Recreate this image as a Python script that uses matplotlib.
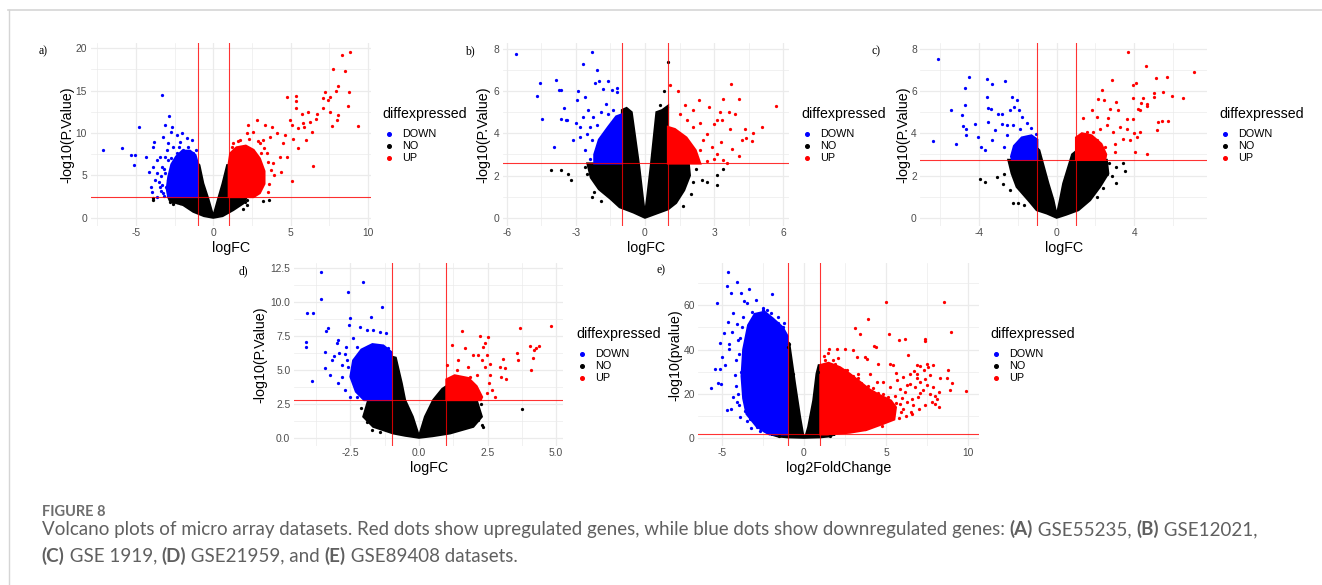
import matplotlib
matplotlib.use('Agg')
import matplotlib.pyplot as plt
from matplotlib.lines import Line2D

plt.rcParams['font.family'] = ['Liberation Sans', 'DejaVu Sans']

# ---------------- data ----------------
# polygons = dense clouds, lists = single visible dots, all in (logFC, -log10 p)

# a) GSE55235
a_cut = (1.0, 2.44)
a_no_cloud = [(0, 0), (-0.6, 0.2), (-1.29, 0.71), (-1.94, 1.5), (-2.5, 1.8), (-2.8, 2.0), (-2.9, 2.44),
              (-1.0, 2.44), (-1.0, 6.4), (-0.9, 6.2), (-0.65, 4.05), (-0.32, 2.2), (0, 0.15),
              (0.3, 2.1), (0.6, 4.0), (0.9, 6.2), (1.0, 6.2), (1.0, 2.44), (2.15, 2.44),
              (1.94, 1.7), (1.29, 0.91), (0.6, 0.2)]
a_down_core = [(-1.0, 2.44), (-1.0, 6.4), (-1.15, 7.4), (-1.5, 7.9), (-2.0, 7.9), (-2.4, 7.2),
               (-2.7, 6.3), (-2.9, 4.8), (-3.0, 3.4), (-2.9, 2.44)]
a_up_core = [(1.0, 2.44), (1.0, 6.4), (1.1, 7.6), (1.5, 8.3), (2.1, 8.5), (2.6, 8.0), (3.0, 7.0),
             (3.3, 5.5), (3.3, 4.0), (3.0, 2.9), (2.6, 2.44)]
a_no = [(-3.87, 2.09), (-3.87, 2.35), (-2.8, 1.8), (-2.58, 1.85), (-2.37, 1.8), (-2.15, 1.7),
        (-2.6, 1.6), (2.04, 1.9), (3.2, 1.97), (3.6, 2.05), (1.94, 0.98), (2.15, 1.5), (2.2, 2.1)]
a_down = [(-7.1, 8.0), (-5.87, 8.27), (-5.31, 7.36), (-5.05, 7.36), (-5.14, 6.22), (-4.82, 10.75),
          (-4.37, 7.2), (-4.17, 5.35), (-4.04, 3.66), (-3.98, 3.07), (-3.91, 6.02), (-3.87, 8.39),
          (-3.8, 8.98), (-3.33, 14.5), (-3.66, 5.24), (-3.53, 4.25), (-3.44, 7.2), (-3.23, 9.57),
          (-3.12, 10.94), (-2.84, 12.0), (-2.69, 10.75), (-2.75, 10.16), (-2.9, 8.78), (-2.37, 9.76),
          (-2.15, 8.98), (-2.04, 9.96), (-1.72, 9.37), (-1.4, 9.17), (-3.66, 2.48), (-3.23, 2.87),
          (-3.01, 7.99), (-2.58, 8.39), (-2.37, 7.6), (-1.94, 7.99), (-1.61, 8.39), (-1.29, 7.6),
          (-3.66, 6.81), (-3.33, 6.02), (-3.12, 5.24), (-2.9, 4.45), (-3.05, 3.66), (-3.44, 3.66),
          (-3.76, 4.45), (-3.2, 2.6), (-3.4, 3.2), (-2.7, 7.0), (-3.1, 7.2), (-2.9, 6.8),
          (-3.2, 5.8), (-3.4, 4.9), (-3.3, 3.9), (-2.2, 8.3), (-1.1, 8.0)]
a_up = [(8.82, 19.6), (8.28, 19.2), (7.74, 17.6), (8.49, 17.3), (8.06, 15.5), (8.77, 14.9),
        (7.91, 15.0), (7.2, 14.8), (7.53, 14.3), (7.1, 14.1), (7.42, 13.9), (7.05, 12.9),
        (7.53, 12.5), (8.71, 13.2), (8.02, 12.1), (7.96, 11.5), (7.63, 10.8), (9.35, 10.8),
        (6.45, 6.1), (5.05, 4.33), (4.73, 14.2), (5.31, 14.4), (5.33, 13.8), (5.33, 13.0),
        (5.7, 12.3), (6.13, 12.5), (6.67, 12.3), (6.62, 11.7), (6.24, 11.3), (5.76, 11.2),
        (4.95, 11.5), (5.05, 10.9), (5.48, 10.55), (5.85, 10.75), (6.34, 10.16), (5.98, 9.17),
        (5.44, 8.19), (5.16, 9.25), (4.62, 9.76), (4.47, 8.78), (4.09, 9.96), (3.76, 10.75),
        (3.33, 10.94), (2.8, 11.5), (2.26, 10.94), (2.15, 9.96), (2.58, 10.16), (3.66, 9.57),
        (4.3, 7.2), (4.73, 7.2), (4.34, 5.43), (3.87, 6.42), (3.44, 7.6), (3.01, 8.78),
        (1.29, 8.78), (1.72, 9.17), (3.6, 4.0), (3.5, 3.0), (3.9, 5.0), (3.2, 9.2),
        (3.3, 8.2), (3.1, 7.6), (3.5, 6.6), (3.7, 5.6), (2.9, 9.0), (2.3, 9.3), (1.6, 9.0),
        (1.2, 8.3)]

# b) GSE12021
b_cut = (1.0, 2.57)
b_no_cloud = [(0, 0), (-0.5, 0.25), (-1.1, 0.5), (-1.5, 0.9), (-2.0, 1.35), (-2.35, 1.9), (-2.5, 2.57),
              (-1.0, 2.57), (-1.0, 5.1), (-0.8, 5.2), (-0.58, 5.0), (-0.25, 2.4), (-0.08, 0.8), (0, 0.15),
              (0.08, 0.8), (0.25, 2.4), (0.5, 5.0), (0.75, 5.1), (1.0, 5.3), (1.0, 2.57), (1.9, 2.57),
              (1.95, 2.0), (1.7, 1.3), (1.35, 0.7), (1.0, 0.4), (0.5, 0.2)]
b_down_core = [(-1.0, 2.57), (-1.0, 4.9), (-1.25, 4.8), (-1.6, 4.3), (-2.0, 3.7), (-2.2, 3.0),
               (-2.2, 2.57)]
b_up_core = [(1.0, 2.57), (1.0, 4.3), (1.3, 4.2), (1.8, 3.8), (2.2, 3.2), (2.4, 2.57)]
b_no = [(-4.1, 2.25), (-3.65, 2.25), (-3.36, 2.09), (-3.23, 1.78), (-2.54, 2.09), (-2.29, 0.99),
        (2.1, 1.7), (2.46, 1.78), (2.68, 1.7), (3.12, 2.02), (3.14, 1.57), (3.41, 2.33),
        (1.64, 0.57), (0.99, 7.37), (0.84, 6.03), (0.65, 5.32), (0.94, 5.24), (-2.6, 2.4),
        (-2.2, 1.2), (-1.9, 0.8), (2.0, 1.1), (2.2, 2.3)]
b_down = [(-5.62, 7.76), (-4.54, 6.39), (-4.68, 5.75), (-4.49, 4.69), (-3.87, 6.55), (-3.72, 6.06),
          (-3.65, 6.06), (-3.52, 5.21), (-3.67, 4.69), (-3.45, 4.61), (-3.38, 4.61), (-3.96, 3.35),
          (-3.12, 3.67), (-2.93, 6.03), (-2.97, 5.56), (-3.0, 4.49), (-2.68, 7.29), (-2.61, 5.72),
          (-2.29, 7.87), (-2.1, 7.01), (-2.17, 6.38), (-1.99, 6.47), (-1.59, 6.5), (-1.81, 6.11),
          (-1.45, 6.06), (-1.23, 6.16), (-1.23, 5.95), (-1.7, 5.4), (-1.38, 5.09), (-2.46, 5.09),
          (-2.25, 4.77), (-2.68, 4.77), (-2.83, 4.3), (-2.54, 3.98), (-2.32, 3.67), (-2.83, 3.83),
          (-2.4, 2.8), (-2.6, 3.2), (-1.9, 5.0), (-2.1, 4.4), (-2.4, 4.3), (-1.6, 4.9)]
b_up = [(5.7, 5.29), (3.74, 6.35), (1.42, 6.03), (1.09, 6.27), (2.36, 5.56), (3.41, 5.61),
        (4.1, 5.61), (2.8, 5.24), (2.1, 5.09), (1.74, 5.32), (3.26, 5.01), (3.67, 5.01),
        (3.91, 4.93), (3.12, 4.61), (3.0, 4.46), (3.33, 4.61), (5.07, 4.3), (4.35, 4.22),
        (4.71, 4.02), (4.38, 3.8), (4.64, 3.64), (4.2, 3.67), (3.7, 4.22), (3.77, 3.28),
        (4.1, 2.91), (3.41, 2.72), (3.55, 2.57), (2.68, 3.98), (2.54, 3.67), (2.9, 3.35),
        (2.1, 4.3), (1.81, 4.61), (2.39, 3.2), (3.12, 3.04), (2.7, 2.7), (3.3, 3.6),
        (1.5, 4.9), (2.4, 4.5), (3.0, 2.8), (2.2, 2.8)]

# c) GSE1919
c_cut = (1.0, 2.74)
c_no_cloud = [(0, 0), (-0.5, 0.2), (-1.03, 0.36), (-1.46, 0.83), (-2.06, 1.46), (-2.32, 2.1), (-2.49, 2.74),
              (-1.0, 2.74), (-1.0, 3.28), (-0.9, 3.2), (-0.43, 1.62), (-0.17, 0.83), (0, 0.1),
              (0.17, 0.83), (0.34, 1.62), (0.8, 3.0), (1.0, 3.15), (1.0, 2.74), (2.58, 2.74),
              (2.66, 2.1), (2.23, 1.46), (1.72, 0.83), (1.12, 0.36), (0.5, 0.15)]
c_down_core = [(-1.0, 2.74), (-1.0, 3.7), (-1.3, 3.9), (-1.8, 3.8), (-2.2, 3.4), (-2.35, 2.9),
               (-2.3, 2.74)]
c_up_core = [(1.0, 2.74), (1.0, 3.8), (1.3, 4.0), (1.8, 3.9), (2.3, 3.5), (2.55, 3.0), (2.5, 2.74)]
c_no = [(-3.95, 1.83), (-3.69, 1.67), (-3.09, 1.94), (-2.71, 2.09), (-2.75, 1.62), (-2.23, 0.68),
        (-1.98, 0.68), (2.06, 0.99), (2.71, 2.57), (3.06, 2.41), (3.44, 2.57), (3.52, 2.22),
        (3.06, 1.65), (2.87, 1.97), (2.58, 2.09), (-2.4, 1.3), (-1.7, 0.6), (2.4, 1.4)]
c_down = [(-6.1, 7.51), (-6.36, 3.64), (-5.45, 5.12), (-5.19, 3.48), (-4.86, 4.88), (-4.85, 4.36),
          (-4.67, 4.22), (-4.72, 5.35), (-4.72, 6.14), (-4.67, 3.91), (-4.5, 6.69), (-4.21, 4.46),
          (-4.04, 3.83), (-3.9, 3.35), (-3.69, 3.23), (-3.57, 6.58), (-3.57, 5.72), (-3.52, 5.21),
          (-3.38, 5.17), (-3.32, 6.35), (-3.56, 4.54), (-3.35, 3.7), (-3.18, 4.14), (-3.01, 4.9),
          (-2.84, 4.9), (-2.66, 6.46), (-2.84, 4.46), (-2.58, 3.91), (-2.71, 3.35), (-2.32, 5.72),
          (-2.2, 5.24), (-2.06, 5.59), (-1.92, 5.09), (-1.77, 4.77), (-2.41, 5.09), (-2.23, 4.38),
          (-1.89, 4.22), (-1.55, 4.49), (-1.34, 4.27), (-1.07, 3.98), (-2.58, 4.38)]
c_up = [(3.66, 7.87), (4.6, 7.21), (7.1, 6.93), (5.12, 6.63), (5.7, 6.66), (2.85, 6.54),
        (3.92, 6.31), (4.09, 6.38), (2.35, 6.06), (5.5, 5.95), (5.0, 5.91), (5.0, 5.72),
        (5.93, 5.76), (6.49, 5.67), (3.95, 5.67), (4.47, 5.69), (2.15, 5.61), (2.46, 5.56),
        (3.06, 5.48), (4.35, 5.43), (4.64, 5.37), (4.67, 5.28), (4.21, 5.17), (4.3, 5.09),
        (1.84, 5.12), (2.75, 5.17), (3.18, 5.12), (1.37, 4.74), (2.06, 4.77), (2.66, 4.74),
        (3.61, 4.69), (3.92, 4.69), (5.24, 4.54), (5.45, 4.57), (5.76, 4.57), (5.15, 4.14),
        (3.61, 4.22), (3.26, 4.3), (4.0, 4.02), (4.12, 3.83), (4.3, 4.06), (3.78, 3.67),
        (4.04, 3.12), (4.64, 3.01), (3.01, 3.51), (3.01, 3.12), (3.44, 3.75), (2.58, 4.38),
        (2.92, 4.06), (2.23, 4.22), (1.89, 4.06), (1.55, 4.06), (2.06, 3.67), (2.49, 3.35)]

# d) GSE21959
d_cut = (1.0, 2.78)
d_no_cloud = [(0, 0), (-0.5, 0.15), (-0.94, 0.32), (-1.67, 0.81), (-2.03, 1.55), (-1.85, 2.78),
              (-1.0, 2.78), (-1.0, 5.98), (-0.85, 5.9), (-0.63, 4.0), (-0.51, 2.78), (-0.23, 1.55),
              (0, 0.1), (0.22, 1.55), (0.52, 2.78), (0.85, 3.6), (1.0, 3.8), (1.0, 2.78), (2.1, 2.78),
              (2.29, 1.55), (1.98, 0.81), (1.13, 0.32), (0.5, 0.12)]
d_down_core = [(-1.0, 2.78), (-1.0, 6.3), (-1.3, 6.8), (-1.7, 6.9), (-2.1, 6.5), (-2.4, 5.7),
               (-2.5, 4.5), (-2.3, 3.4), (-2.0, 2.78)]
d_up_core = [(1.0, 2.78), (1.0, 4.3), (1.3, 4.6), (1.8, 4.4), (2.1, 3.8), (2.3, 3.0), (2.25, 2.78)]
d_no = [(-1.91, 1.18), (-1.73, 0.57), (-1.42, 0.44), (2.17, 1.3), (2.29, 0.93), (2.35, 0.76),
        (3.75, 2.12), (-2.1, 2.2), (2.25, 2.5)]
d_down = [(-3.58, 12.25), (-3.58, 10.23), (-4.1, 9.18), (-3.86, 9.23), (-4.12, 7.08), (-4.12, 6.72),
          (-3.92, 4.21), (-3.39, 7.9), (-3.31, 8.07), (-3.43, 6.35), (-3.43, 5.12), (-3.25, 4.62),
          (-3.19, 5.73), (-2.94, 7.21), (-2.92, 6.22), (-2.94, 4.01), (-2.82, 5.36), (-2.58, 10.77),
          (-2.52, 8.81), (-2.54, 8.31), (-2.4, 7.33), (-2.66, 6.72), (-2.03, 11.51), (-1.75, 8.93),
          (-1.36, 9.67), (-2.15, 8.19), (-1.91, 7.95), (-1.67, 7.95), (-1.42, 7.82), (-1.22, 7.7),
          (-2.27, 6.72), (-1.91, 6.72), (-1.55, 6.72), (-1.12, 6.59), (-2.64, 5.73), (-2.46, 4.75),
          (-2.82, 4.5), (-2.7, 3.52), (-2.52, 3.03), (-2.27, 3.03), (-2.15, 4.5), (-3.0, 7.0),
          (-2.7, 6.2), (-3.1, 6.0), (-2.6, 5.2)]
d_up = [(4.82, 8.24), (3.69, 8.12), (4.27, 6.64), (4.2, 6.47), (4.05, 6.79), (4.36, 6.79),
        (3.56, 6.27), (3.6, 5.73), (4.17, 5.85), (4.09, 4.99), (3.08, 5.78), (2.96, 5.24),
        (3.14, 5.12), (3.18, 4.31), (2.99, 4.5), (1.58, 7.87), (2.23, 7.5), (2.51, 7.4),
        (2.41, 6.96), (2.35, 6.72), (1.19, 6.84), (1.68, 6.59), (1.98, 6.1), (2.17, 6.1),
        (2.47, 6.1), (1.44, 5.73), (1.01, 5.36), (2.59, 5.44), (2.41, 5.24), (2.1, 4.62),
        (2.57, 4.01), (2.65, 3.52), (2.77, 3.03), (2.47, 3.27), (1.86, 4.5), (1.37, 4.99),
        (2.3, 5.7), (1.8, 5.2), (2.6, 4.6)]

# e) GSE89408
e_cut = (1.0, 1.8)
e_no_cloud = [(0, 0.3), (-1.0, 0.5), (-1.6, 0.9), (-2.0, 1.8), (-1.0, 1.8), (-1.0, 43.4), (-0.9, 42.8),
              (-0.55, 24.6), (-0.24, 9.5), (-0.04, 1), (0.1, 1), (0.26, 5), (0.57, 17), (0.77, 29.1),
              (0.9, 32.9), (1.0, 32.9), (1.0, 1.8), (1.9, 1.8), (1.5, 0.9), (1.0, 0.5)]
e_down_core = [(-1.0, 1.8), (-1.0, 46), (-1.3, 50), (-1.9, 54), (-2.4, 57), (-3.0, 56), (-3.4, 51),
               (-3.7, 40), (-3.8, 28), (-3.7, 18), (-3.5, 11), (-2.9, 5.5), (-2.4, 3), (-2.1, 1.8)]
e_up_core = [(1.0, 1.8), (1.0, 33), (1.5, 34), (2.2, 32), (2.8, 29), (3.4, 25.5), (4.0, 22),
             (4.6, 19.5), (5.3, 17), (5.6, 14), (5.5, 8.5), (4.8, 6.5), (3.8, 3.8), (2.8, 2.6),
             (1.8, 2.0), (1.4, 1.8)]
e_no = [(-0.89, 42.7), (-0.95, 41.0), (-0.69, 29.1), (0.87, 29.9), (-1.5, 1.0), (1.6, 1.2)]
e_down = [(-4.61, 75.1), (-4.67, 68.6), (-4.07, 70.3), (-4.45, 65.6), (-3.86, 65.6), (-3.35, 67.3),
          (-5.33, 60.8), (-1.93, 64.9), (-3.64, 62.0), (-2.95, 62.3), (-3.46, 60.8), (-4.31, 56.3),
          (-4.61, 52.5), (-4.41, 48.0), (-4.88, 47.5), (-5.12, 43.0), (-4.55, 42.4), (-5.02, 36.7),
          (-4.57, 40.4), (-5.43, 31.4), (-5.12, 31.4), (-5.67, 22.8), (-5.22, 24.9), (-5.06, 24.3),
          (-4.82, 32.9), (-4.72, 12.8), (-4.47, 13.3), (-4.07, 16.3), (-4.31, 18.6), (-4.15, 23.8),
          (-4.21, 28.4), (-4.15, 35.1), (-4.0, 44.2), (-3.8, 50.2), (-3.7, 54.8), (-4.07, 51.7),
          (-3.6, 12.5), (-3.29, 8.7), (-2.89, 5.0), (-2.68, 3.5), (-3.19, 57.0), (-2.48, 57.8),
          (-2.28, 57.8), (-3.95, 38.0), (-4.0, 20.0), (-3.9, 9.5), (-1.6, 52.0), (-1.3, 50.0),
          (-3.9, 45.0), (-3.85, 30.0), (-3.95, 15.0), (-3.5, 8.0), (-2.5, 58.5), (-2.0, 56.5),
          (-1.2, 52.0), (-1.6, 54.5), (-3.2, 4.5), (-3.6, 26.0)]
e_up = [(5.0, 61.2), (8.56, 61.5), (8.96, 47.7), (9.86, 21.4), (3.88, 53.7), (3.11, 49.8),
        (3.41, 47.2), (5.18, 47.2), (5.81, 44.2), (6.16, 44.8), (7.38, 44.6), (7.38, 43.9),
        (4.27, 41.6), (4.39, 41.2), (1.52, 40.1), (1.99, 40.1), (2.5, 40.4), (3.01, 39.7),
        (1.48, 38.6), (3.25, 36.7), (3.72, 36.7), (3.82, 35.9), (6.36, 37.7), (4.53, 33.6),
        (5.24, 33.3), (5.45, 32.9), (6.87, 33.2), (7.48, 33.6), (7.85, 32.9), (7.07, 32.4),
        (7.58, 32.1), (8.8, 30.6), (8.29, 27.3), (8.7, 27.3), (9.04, 24.9), (8.9, 21.6),
        (8.09, 17.8), (8.25, 14.3), (7.99, 15.5), (7.32, 30.9), (6.87, 29.1), (6.46, 29.1),
        (6.06, 27.6), (5.65, 26.1), (5.24, 23.1), (4.84, 20.1), (4.43, 18.6), (4.02, 17.0),
        (3.62, 20.1), (3.11, 21.6), (2.8, 24.6), (2.4, 27.6), (2.09, 31.4), (1.79, 35.1),
        (2.6, 30.6), (3.31, 29.1), (4.02, 29.1), (4.43, 25.3), (4.84, 25.3), (5.14, 18.6),
        (5.55, 19.3), (5.85, 22.3), (6.16, 20.8), (6.46, 24.6), (6.77, 23.1), (7.07, 25.3),
        (7.38, 26.8), (7.68, 28.4), (7.28, 21.6), (6.97, 18.6), (6.57, 17.8), (6.26, 16.3),
        (5.85, 15.5), (5.45, 14.0), (6.06, 13.3), (6.67, 14.8), (7.68, 20.1), (7.89, 23.1),
        (7.78, 16.3), (4.74, 5.7), (3.72, 4.2), (5.24, 12.5), (4.84, 14.0), (4.63, 11.0),
        (6.3, 24.0), (6.9, 27.0), (7.1, 20.5), (6.0, 18.0), (5.0, 16.5), (4.2, 22.5),
        (3.5, 25.0), (7.5, 24.0), (6.7, 30.5), (5.6, 29.5), (5.6, 16.0), (5.9, 12.0),
        (6.2, 10.0), (5.8, 9.0), (6.5, 12.0), (4.5, 20.5), (3.9, 23.5), (3.0, 28.0),
        (2.5, 31.0), (1.9, 33.5), (1.3, 35.5), (1.2, 37.0), (2.1, 36.0), (3.3, 27.0),
        (4.2, 21.0), (6.6, 11.0), (7.0, 13.0), (7.4, 15.0), (8.0, 19.0), (8.2, 21.0)]

# axis ticks / labels
a_xticks, a_xlabels = [-5, 0, 5, 10], ['-5', '0', '5', '10']
a_yticks, a_ylabels = [0, 5, 10, 15, 20], ['0', '5', '10', '15', '20']
b_xticks, b_xlabels = [-6, -3, 0, 3, 6], ['-6', '-3', '0', '3', '6']
b_yticks, b_ylabels = [0, 2, 4, 6, 8], ['0', '2', '4', '6', '8']
c_xticks, c_xlabels = [-4, 0, 4], ['-4', '0', '4']
c_yticks, c_ylabels = [0, 2, 4, 6, 8], ['0', '2', '4', '6', '8']
d_xticks, d_xlabels = [-2.5, 0, 2.5, 5.0], ['-2.5', '0.0', '2.5', '5.0']
d_yticks, d_ylabels = [0, 2.5, 5, 7.5, 10, 12.5], ['0.0', '2.5', '5.0', '7.5', '10.0', '12.5']
e_xticks, e_xlabels = [-5, 0, 5, 10], ['-5', '0', '5', '10']
e_yticks, e_ylabels = [0, 20, 40, 60], ['0', '20', '40', '60']

# ---------------- drawing ----------------
W, H = 1322, 585
fig = plt.figure(figsize=(W / 100, H / 100), dpi=100)
BLUE, RED, BLACK = '#0000FF', '#FF0000', '#000000'
GRID = '#EBEBEB'


def ftext(x, y, s, **kw):
    return fig.text(x / W, 1 - y / H, s, **kw)


def minors(ticks, lo, hi):
    step = ticks[1] - ticks[0]
    cand = [ticks[0] - step / 2] + [t + step / 2 for t in ticks]
    return [m for m in cand if lo <= m <= hi]


def volcano(box, no_cloud, down_core, up_core, no_pts, down_pts, up_pts, cut,
            xticks, xlabels, yticks, ylabels, xlab, ylab, tag):
    x0, y0, x1, y1 = box
    ax = fig.add_axes([x0 / W, 1 - y1 / H, (x1 - x0) / W, (y1 - y0) / H])
    everything = no_cloud + down_core + up_core + no_pts + down_pts + up_pts
    xs = [p[0] for p in everything]
    ys = [p[1] for p in everything]
    xr, yr = max(xs) - min(xs), max(ys) - min(ys)
    ax.set_xlim(min(xs) - 0.05 * xr, max(xs) + 0.05 * xr)
    ax.set_ylim(min(ys) - 0.05 * yr, max(ys) + 0.05 * yr)

    for poly, col in ((no_cloud, BLACK), (down_core, BLUE), (up_core, RED)):
        ax.fill([p[0] for p in poly], [p[1] for p in poly], color=col, lw=1.6, zorder=2)
    for pts, col in ((no_pts, BLACK), (down_pts, BLUE), (up_pts, RED)):
        ax.scatter([p[0] for p in pts], [p[1] for p in pts], s=5.5, c=col, linewidths=0, zorder=3)

    fc, pc = cut
    ax.axvline(-fc, color='red', lw=0.8, alpha=0.8, zorder=4)
    ax.axvline(fc, color='red', lw=0.8, alpha=0.8, zorder=4)
    ax.axhline(pc, color='red', lw=0.8, alpha=0.8, zorder=4)

    ax.set_xticks(xticks)
    ax.set_xticklabels(xlabels)
    ax.set_yticks(yticks)
    ax.set_yticklabels(ylabels)
    lo, hi = ax.get_xlim()
    ax.set_xticks(minors(xticks, lo, hi), minor=True)
    lo, hi = ax.get_ylim()
    ax.set_yticks(minors(yticks, lo, hi), minor=True)
    ax.grid(which='major', color=GRID, lw=0.9)
    ax.grid(which='minor', color=GRID, lw=0.5)
    ax.set_axisbelow(True)
    for sp in ax.spines.values():
        sp.set_visible(False)
    ax.tick_params(which='both', length=0, labelsize=7.4, labelcolor='#4D4D4D')
    ax.tick_params(axis='x', pad=1.5)
    ax.tick_params(axis='y', pad=2.5)

    cx = (x0 + x1) / 2
    cy = (y0 + y1) / 2
    ftext(cx, y1 + 22, xlab, fontsize=10.3, ha='center', va='center')
    ftext(tag[1], cy, ylab, fontsize=10.3, ha='center', va='center', rotation=90)
    ftext(tag[2], tag[3], tag[0], fontsize=8.5, ha='center', va='center',
          family=['Liberation Serif', 'DejaVu Serif'])

    # legend
    lx, ly = tag[4], cy - 20.5
    ftext(lx, ly, 'diffexpressed', fontsize=10.2, ha='left', va='center')
    for i, (lab, col) in enumerate((('DOWN', BLUE), ('NO', BLACK), ('UP', RED))):
        yy = ly + 20 + 12 * i
        fig.add_artist(Line2D([(lx + 6) / W], [1 - yy / H], marker='o', ms=2.6, color=col,
                              ls='none', transform=fig.transFigure))
        ftext(lx + 19.5, yy, lab, fontsize=7.8, ha='left', va='center')
    return ax


volcano((90.5, 43.4, 370.9, 226), a_no_cloud, a_down_core, a_up_core, a_no, a_down, a_up, a_cut,
        a_xticks, a_xlabels, a_yticks, a_ylabels, 'logFC', '-log10(P.Value)',
        ('a)', 67, 43, 51, 382.7))
volcano((502.6, 43.4, 789.2, 226), b_no_cloud, b_down_core, b_up_core, b_no, b_down, b_up, b_cut,
        b_xticks, b_xlabels, b_yticks, b_ylabels, 'logFC', '-log10(P.Value)',
        ('b)', 483, 470, 51, 801))
volcano((920.3, 43.4, 1207.4, 226), c_no_cloud, c_down_core, c_up_core, c_no, c_down, c_up, c_cut,
        c_xticks, c_xlabels, c_yticks, c_ylabels, 'logFC', '-log10(P.Value)',
        ('c)', 903, 876, 51, 1219))
volcano((293.8, 263.4, 563.4, 446), d_no_cloud, d_down_core, d_up_core, d_no, d_down, d_up, d_cut,
        d_xticks, d_xlabels, d_yticks, d_ylabels, 'logFC', '-log10(P.Value)',
        ('d)', 260, 243, 271, 576))
volcano((698.2, 263.3, 978.5, 446), e_no_cloud, e_down_core, e_up_core, e_no, e_down, e_up, e_cut,
        e_xticks, e_xlabels, e_yticks, e_ylabels, 'log2FoldChange', '-log10(pvalue)',
        ('e)', 675, 661, 270, 990))

# frame around the figure
fig.add_artist(Line2D([8 / W, 1], [1 - 10 / H, 1 - 10 / H], transform=fig.transFigure,
                      color='#D5D5D5', lw=1.2))
fig.add_artist(Line2D([8.5 / W, 8.5 / W], [1 - 10 / H, 0], transform=fig.transFigure,
                      color='#D5D5D5', lw=1.0))

# caption
CAP_FONT = ['Lato', 'Open Sans', 'DejaVu Sans']
renderer = fig.canvas.get_renderer()


def seg_width(s, size, weight):
    t1 = fig.text(0, 0, s + '|', fontsize=size, fontweight=weight, family=CAP_FONT)
    t2 = fig.text(0, 0, '|', fontsize=size, fontweight=weight, family=CAP_FONT)
    w = t1.get_window_extent(renderer).width - t2.get_window_extent(renderer).width
    t1.remove()
    t2.remove()
    return w


line1 = [("Volcano plots of micro array datasets. Red dots show upregulated genes, while blue dots "
          "show downregulated genes: ", False), ("(A)", True), (" GSE55235, ", False),
         ("(B)", True), (" GSE12021,", False)]
line2 = [("(C)", True), (" GSE 1919, ", False), ("(D)", True), (" GSE21959, and ", False),
         ("(E)", True), (" GSE89408 datasets.", False)]

base = 10
total = sum(seg_width(s, base, 'bold' if b else 'normal') for s, b in line1)
size = base * (1256 - 41.7) / total


def rich_line(x, y, parts):
    cur = x
    for s, b in parts:
        wt = 'bold' if b else 'normal'
        ftext(cur, y, s, fontsize=size, fontweight=wt, color='#606060', va='baseline',
              ha='left', family=CAP_FONT)
        cur += seg_width(s, size, wt)


fw = seg_width('FIGURE 8', 10, 'bold')
ftext(41.7, 516, 'FIGURE 8', fontsize=10 * 64 / fw, fontweight='bold', color='#6E6E6E',
      va='baseline', ha='left', family=CAP_FONT)
rich_line(41.7, 535, line1)
rich_line(41.7, 561.7, line2)

fig.savefig('out.png', dpi=100)
